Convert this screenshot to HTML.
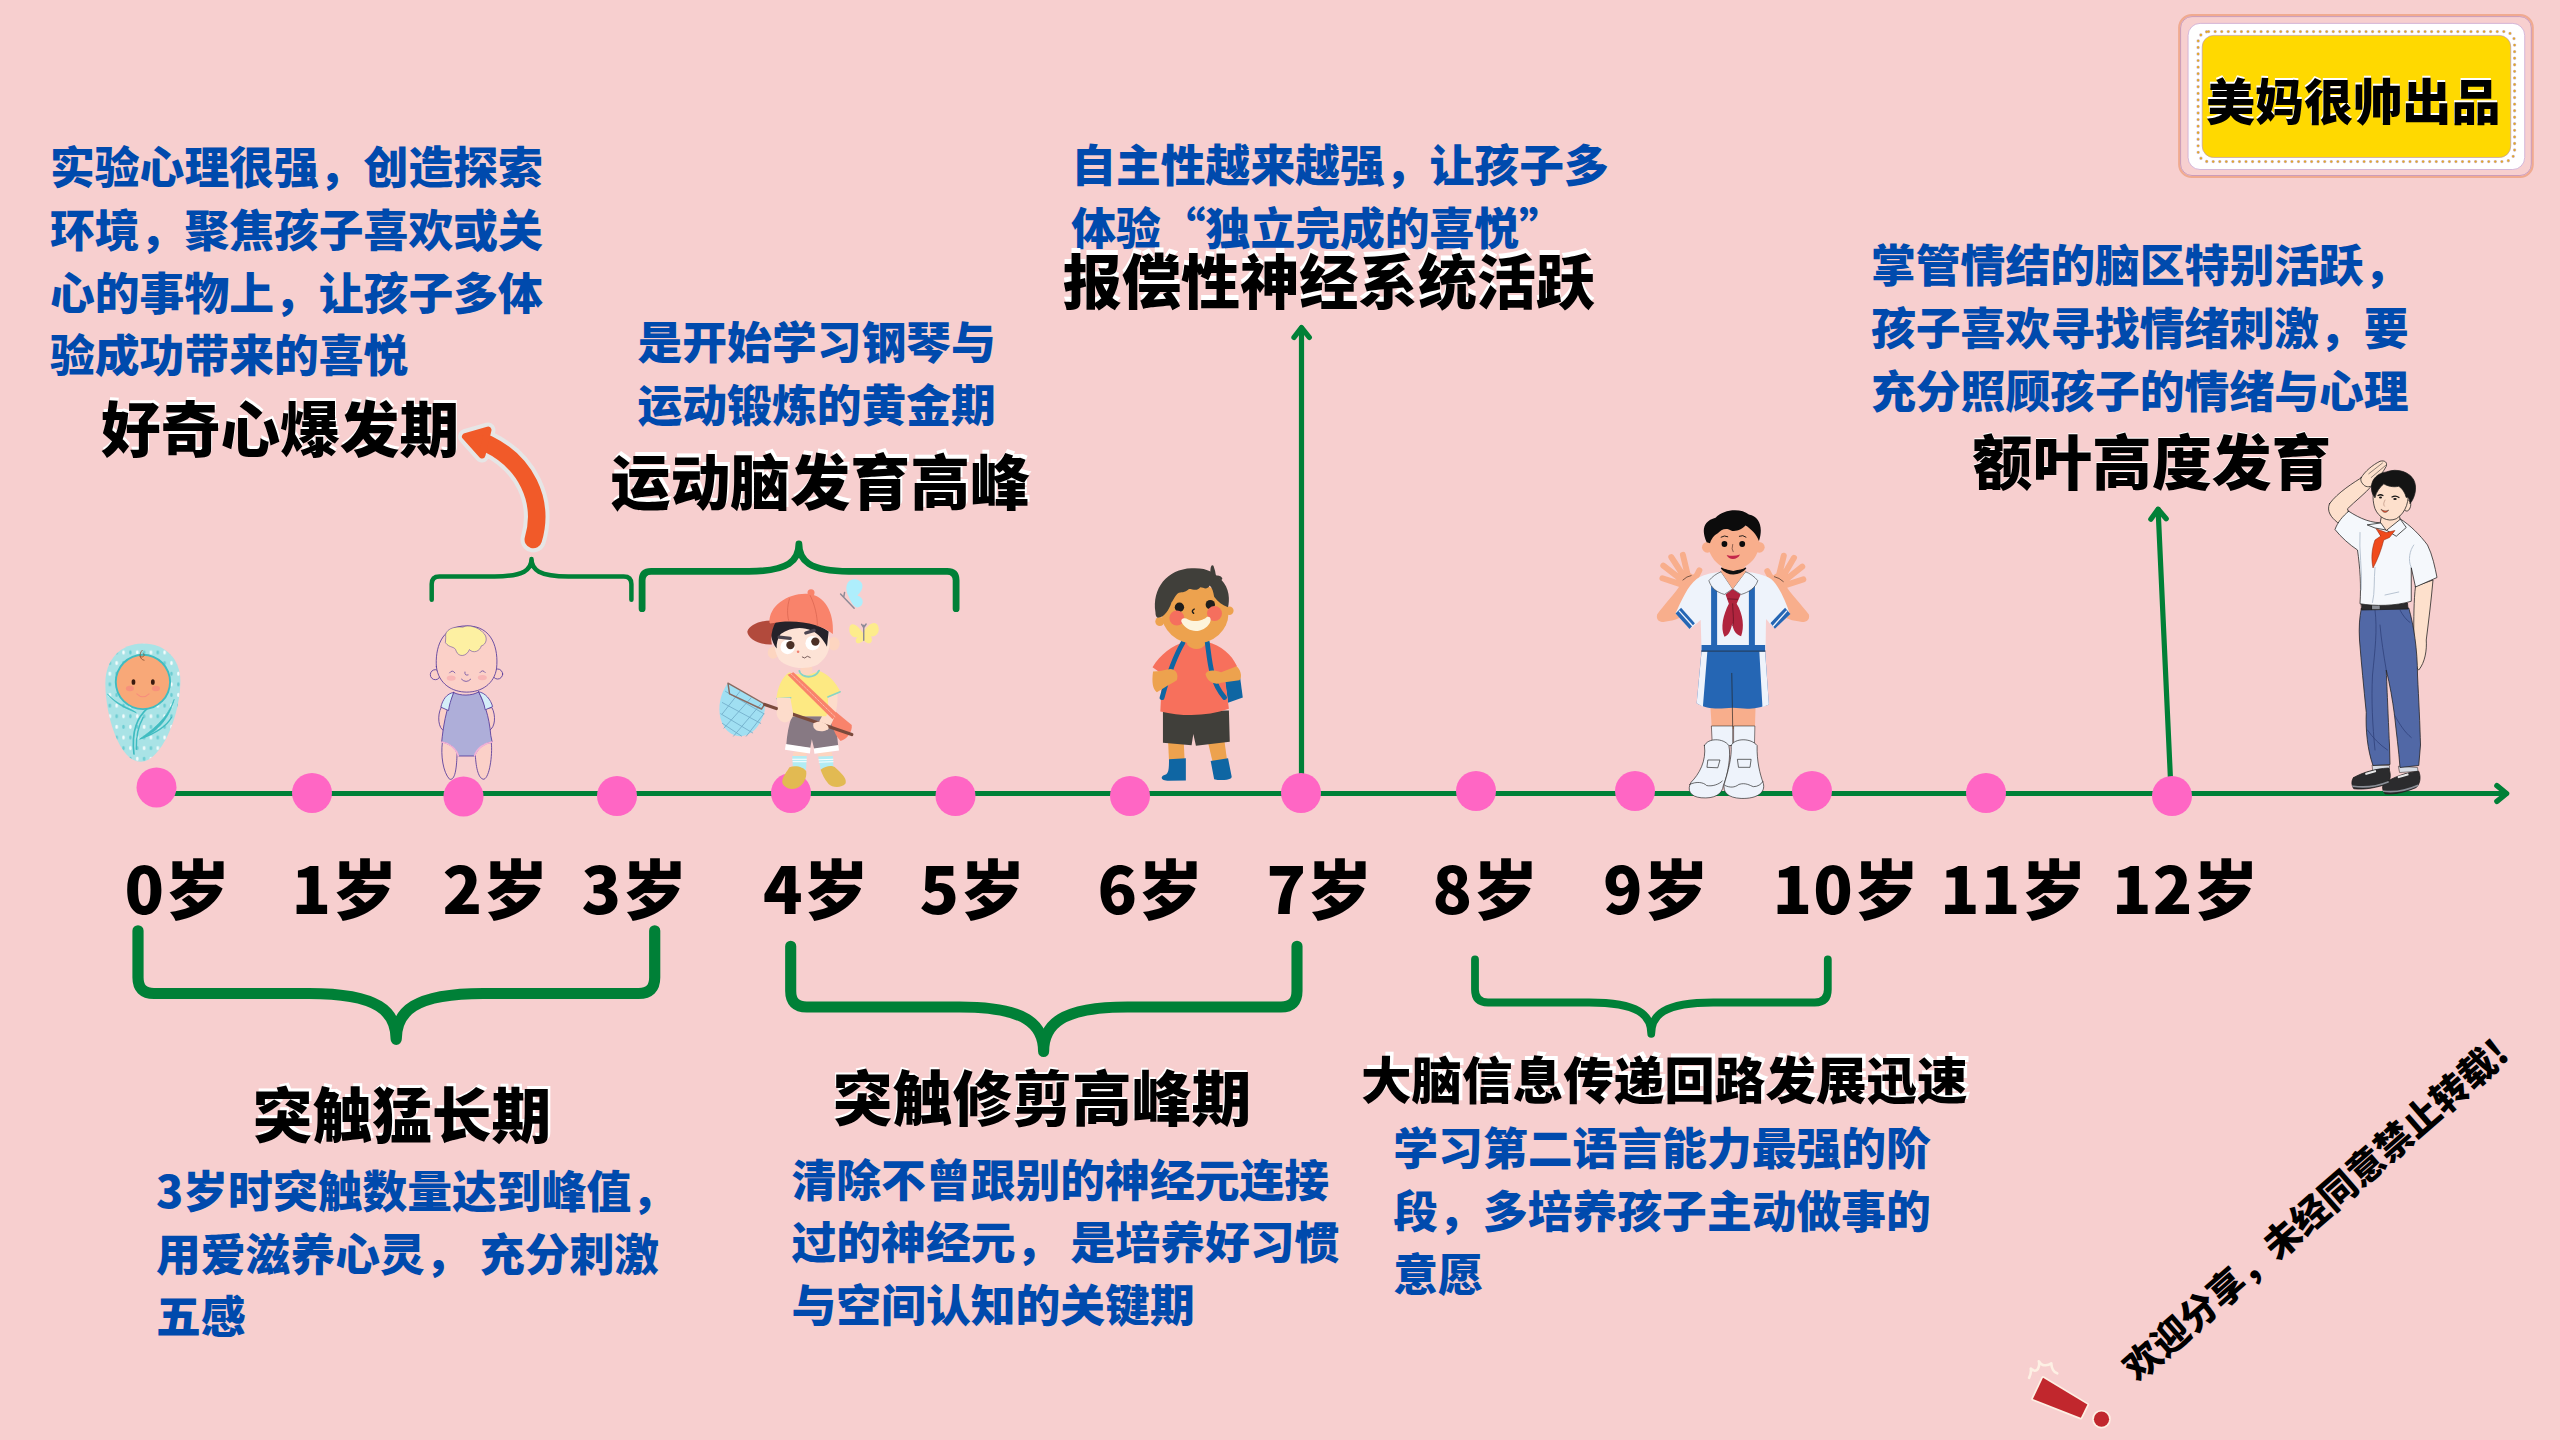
<!DOCTYPE html>
<html lang="zh-CN">
<head>
<meta charset="utf-8">
<title>大脑发育时间轴</title>
<style>
html,body{margin:0;padding:0;}
body{width:2560px;height:1440px;overflow:hidden;background:#f7cfcf;font-family:"Liberation Sans","Noto Sans CJK SC",sans-serif;}
#stage{position:relative;width:2560px;height:1440px;overflow:hidden;background:#f7cfcf;}
.t{position:absolute;white-space:nowrap;font-family:"Noto Sans CJK SC","Liberation Sans",sans-serif;font-weight:900;margin:0;}
.blue{color:#004aad;font-size:44.8px;line-height:62.72px;}
.ttl{color:#000;font-size:60px;line-height:70px;text-shadow:1px -3px 0 #fff;}
.age{color:#000;font-size:65px;line-height:70px;letter-spacing:1.2px;}
svg{position:absolute;left:0;top:0;}
</style>
</head>
<body>
<div id="stage">
<svg id="lines" width="2560" height="1440" viewBox="0 0 2560 1440">
  <g fill="none" stroke="#008037" stroke-linecap="round" stroke-linejoin="round">
    <path d="M157 793.5H2506" stroke-width="5.2"/>
    <path d="M2496.9 785.7L2506.6 793.5L2496.9 801.3" stroke-width="5.4"/>
    <path d="M1301.5 793V328" stroke-width="5.2"/>
    <path d="M1294 337.4L1301.5 327.6L1309.3 337.4" stroke-width="5.3"/>
    <path d="M2171.1 793L2158.1 509.4" stroke-width="5.2"/>
    <path d="M2150.8 519.2L2158.1 509.2L2166.2 518.7" stroke-width="5.3"/>
  </g>
  <g id="braces" fill="none" stroke="#008037" stroke-linecap="round" stroke-linejoin="round">
    <path d="M431.7 599.8V584.1Q431.7 576.4 439.4 576.4H494.5C524.1 576.4 531.5 569.5 531.5 559.1C531.5 569.5 538.9 576.4 568.5 576.4H623.6999999999999Q631.4 576.4 631.4 584.1V599.8" stroke-width="4.5"/>
    <path d="M642.1 608.7V580.3Q642.1 571.3 651.1 571.3H748.9C788.9 571.3 798.9 560.3 798.9 543.8C798.9 560.3 808.9 571.3 848.9 571.3H947.1Q956.1 571.3 956.1 580.3V608.7" stroke-width="6.8"/>
    <path d="M138 930.8V977.5Q138 993.5 154 993.5H309.2C378.8 993.5 396.2 1011.8 396.2 1039.3C396.2 1011.8 413.6 993.5 483.2 993.5H638.7Q654.7 993.5 654.7 977.5V930.8" stroke-width="11.2"/>
    <path d="M790.7 946.2V991Q790.7 1007 806.7 1007H959.5999999999999C1026.8 1007 1043.6 1024.8 1043.6 1051.5C1043.6 1024.8 1060.4 1007 1127.6 1007H1281Q1297 1007 1297 991V946.2" stroke-width="11.1"/>
    <path d="M1475 959.5V989.5Q1475 1002.5 1488 1002.5H1589.25C1638.8 1002.5 1651.25 1015.0 1651.25 1033.8C1651.25 1015.0 1663.7 1002.5 1713.25 1002.5H1814.8Q1827.8 1002.5 1827.8 989.5V959.5" stroke-width="7.8"/>
  </g>
  <g id="oarrow" stroke-linecap="round" stroke-linejoin="round">
    <path d="M533.3 539.6C545 500 525 462 488 444" fill="none" stroke="#e6e6e6" stroke-width="25.5"/>
    <path d="M465.5 436.5L488 430L482 455Z" fill="#e6e6e6" stroke="#e6e6e6" stroke-width="15"/>
    <path d="M533.3 539.6C545 500 525 462 488 444" fill="none" stroke="#f15a29" stroke-width="17.5"/>
    <path d="M465.5 436.5L488 430L482 455Z" fill="#f15a29" stroke="#f15a29" stroke-width="7"/>
  </g>
  <g id="badge">
    <rect x="2179.2" y="15.2" width="353.5" height="161.7" rx="12.6" fill="none" stroke="#f0aa90" stroke-width="2.2"/>
    <rect x="2180.6" y="16.6" width="350.7" height="158.9" rx="11.4" fill="none" stroke="#b98ab8" stroke-width="0.7"/>
    <rect x="2188.1" y="23.4" width="336.6" height="146.1" rx="12" fill="#ffffff" stroke="#c4a2d2" stroke-width="0.7"/>
    <rect x="2198.1" y="31.6" width="316.5" height="130" rx="10.5" fill="none" stroke="#a77bb0" stroke-opacity="0.55" stroke-width="3.4" stroke-linecap="round" stroke-dasharray="0 6.56"/>
    <rect x="2198.1" y="31.6" width="316.5" height="130" rx="10.5" fill="none" stroke="#e3aa22" stroke-width="2.3" stroke-linecap="round" stroke-dasharray="0 6.56"/>
    <rect x="2202.2" y="35.4" width="308.6" height="122.1" rx="11.5" fill="#ffd900" stroke="#b58fc0" stroke-width="0.6"/>
  </g>
  <g id="excl" stroke-linejoin="round" stroke-linecap="round">
    <path d="M2043 1377.8L2087.4 1404.6L2080.8 1417.8L2032.9 1399Z" fill="#c1272d" stroke="#fdf0e4" stroke-width="3.4" paint-order="stroke"/>
    <circle cx="2101.5" cy="1419.2" r="7.6" fill="#c1272d" stroke="#fdf0e4" stroke-width="3.4" paint-order="stroke"/>
    <path d="M2029.1 1377.8Q2031.5 1373 2030.8 1368.5Q2035 1372.5 2037.8 1369.2Q2040 1365 2038.8 1361.2Q2041.5 1365.8 2044.7 1365.2Q2048.5 1365.5 2051.3 1363.3Q2051.5 1367.5 2053 1369.9Q2054.5 1372.5 2057.2 1373.3" fill="none" stroke="#fdf0e4" stroke-width="2.6"/>
  </g>
<!--CHARS_BELOW_DOTS-->
  <!-- character 1: swaddled newborn -->
  <defs>
    <clipPath id="eggclip"><path d="M448 115C640 115 765 250 765 430C765 730 600 1115 430 1115C250 1115 130 730 130 450C130 250 260 115 448 115Z"/></clipPath>
    <pattern id="swdots" width="116" height="180" patternUnits="userSpaceOnUse" x="140" y="150">
      <ellipse cx="28" cy="40" rx="11" ry="17" fill="#ffffff"/>
      <ellipse cx="86" cy="40" rx="11" ry="17" fill="#62c9cf"/>
      <ellipse cx="28" cy="130" rx="11" ry="17" fill="#62c9cf"/>
      <ellipse cx="86" cy="130" rx="11" ry="17" fill="#ffffff"/>
    </pattern>
  </defs>
  <g id="c1" transform="translate(90 630) scale(0.11811)">
    <path d="M448 115C640 115 765 250 765 430C765 730 600 1115 430 1115C250 1115 130 730 130 450C130 250 260 115 448 115Z" fill="#a9e3e6"/>
    <rect x="120" y="100" width="660" height="1030" fill="url(#swdots)" clip-path="url(#eggclip)" opacity="0.9"/>
    <g fill="none" stroke="#3fbcc1" stroke-linecap="round">
      <path d="M150 545C230 640 320 670 392 700C320 650 240 640 150 545Z" fill="#3fbcc1" stroke-width="6"/>
      <path d="M712 590C650 760 520 850 420 925C540 880 660 780 712 590Z" fill="#3fbcc1" stroke-width="6"/>
      <path d="M690 740C640 830 540 880 430 920" stroke-width="10"/>
      <path d="M490 660C400 740 350 850 372 1050" stroke-width="14"/>
      <path d="M450 740C400 830 390 930 392 1010" stroke-width="12"/>
    </g>
    <circle cx="448" cy="440" r="238" fill="#3fbcc1"/>
    <circle cx="448" cy="440" r="222" fill="#f8a878"/>
    <ellipse cx="368" cy="440" rx="16" ry="24" fill="#3a1b10"/>
    <ellipse cx="532" cy="440" rx="16" ry="24" fill="#3a1b10"/>
    <ellipse cx="338" cy="496" rx="34" ry="23" fill="#f78d7d" opacity="0.85"/>
    <ellipse cx="558" cy="496" rx="34" ry="23" fill="#f78d7d" opacity="0.85"/>
    <path d="M396 540Q448 590 500 540" fill="none" stroke="#f78d7d" stroke-width="9" stroke-linecap="round"/>
    <path d="M442 172C412 200 420 252 458 256M424 226C446 238 474 216 450 198" fill="none" stroke="#8a5030" stroke-width="7" stroke-linecap="round"/>
  </g>
  <!-- character 2: toddler -->
  <g id="c2" transform="translate(410 610) scale(0.13201)" stroke="#553a9c" stroke-width="6.5" stroke-linejoin="round" stroke-linecap="round">
    <path d="M245 1005C232 1100 250 1230 300 1282C342 1292 352 1200 356 1105L356 1005Z" fill="#fbd0c8"/>
    <path d="M495 1100C500 1200 520 1282 560 1282C602 1270 626 1100 616 1005L495 1005Z" fill="#fbd0c8"/>
    <path d="M236 738C204 800 214 900 260 916C296 900 286 800 292 750Z" fill="#fbd0c8"/>
    <path d="M622 742C652 800 646 890 600 912C566 890 572 800 560 750Z" fill="#fbd0c8"/>
    <path d="M330 625C380 652 470 652 520 620C560 700 600 800 612 950L622 1000C560 1010 510 1050 490 1106L366 1106C350 1050 300 1010 240 1000C250 900 270 750 330 625Z" fill="#aeaed9"/>
    <path d="M330 625C280 630 246 680 234 736L292 762C300 700 320 660 330 625Z" fill="#d5eef8"/>
    <path d="M520 620C570 625 612 680 626 732L570 756C560 700 540 660 520 620Z" fill="#d5eef8"/>
    <path d="M242 1000C300 1012 350 1050 366 1104" fill="none" stroke="#f3b2d6" stroke-width="13"/>
    <path d="M620 1000C560 1012 506 1050 490 1104" fill="none" stroke="#f3b2d6" stroke-width="13"/>
    <circle cx="192" cy="490" r="38" fill="#fbd0c8"/>
    <circle cx="664" cy="485" r="38" fill="#fbd0c8"/>
    <path d="M200 430C190 300 230 120 430 120C630 120 670 300 656 440C640 560 540 622 430 622C320 622 215 560 200 430Z" fill="#fbd0c8"/>
    <path d="M270 205C258 150 330 120 400 130C440 108 520 130 552 170C592 200 582 262 540 272C530 312 480 332 450 300C430 352 370 362 350 312C340 270 300 292 270 250Z" fill="#fdf0a2" stroke-width="4"/>
    <g fill="none" stroke-width="5.5">
      <path d="M300 476Q320 448 340 476"/>
      <path d="M530 474Q550 446 570 474"/>
      <path d="M416 470Q412 500 440 492"/>
      <path d="M390 524Q425 560 460 524"/>
    </g>
    <ellipse cx="312" cy="516" rx="34" ry="20" fill="#f8b6b6" stroke="none"/>
    <ellipse cx="548" cy="512" rx="34" ry="20" fill="#f8b6b6" stroke="none"/>
  </g>
<!--/CHARS_BELOW_DOTS-->
  <g fill="#ff66c4">
    <circle cx="156.5" cy="787.4" r="20"/><circle cx="312" cy="793" r="20"/><circle cx="463.5" cy="796.5" r="20"/><circle cx="617" cy="796" r="20"/>
    <circle cx="791" cy="793" r="20"/><circle cx="955.5" cy="796" r="20"/><circle cx="1130" cy="796" r="20"/><circle cx="1301" cy="793" r="20"/>
    <circle cx="1476" cy="791" r="20"/><circle cx="1635" cy="791" r="20"/><circle cx="1812" cy="791" r="20"/><circle cx="1986" cy="793" r="20"/><circle cx="2172" cy="796" r="20"/>
  </g>
<!--CHARS_ABOVE_DOTS-->
  <!-- character 3: boy with cap and butterfly net (zoom 6.26, origin 700,570) -->
  <g id="c3" transform="translate(700 570) scale(0.159744)" stroke-linejoin="round" stroke-linecap="round">
    <!-- butterflies -->
    <path d="M930 165C900 110 920 50 975 58C1030 70 1030 120 985 160C1030 170 1030 230 985 235C960 232 945 200 930 165Z" fill="#aeeefc"/>
    <path d="M880 150L965 240M905 140L900 170" stroke="#8d8a96" stroke-width="9" fill="none"/>
    <path d="M1020 395C980 330 930 320 935 380C940 420 975 425 985 420C960 450 985 480 1025 440C1060 480 1090 450 1070 415C1100 420 1130 390 1115 350C1095 310 1050 340 1020 395Z" fill="#fdec8c"/>
    <path d="M1025 345L1025 440M1012 340L1025 360L1040 338" stroke="#8d8a96" stroke-width="9" fill="none"/>
    <!-- net -->
    <path d="M175 708C120 780 100 900 150 980C200 1060 300 1060 360 980C400 920 410 880 405 840Z" fill="#a0dff2"/>
    <g stroke="#6fa9c6" stroke-width="5" fill="none">
      <path d="M160 760L400 900M140 830L380 960M130 900L330 1020M140 960L260 1040"/>
      <path d="M250 760L140 900M320 800L150 990M380 840L210 1040M400 900L290 1040"/>
    </g>
    <path d="M175 708L405 840L385 870L185 775Z" fill="none" stroke="#8a6a60" stroke-width="9"/>
    <!-- legs / socks / shoes -->
    <path d="M585 1140L668 1140L665 1175L580 1175ZM735 1140L825 1140L830 1175L742 1175Z" fill="#fdd5c0"/>
    <path d="M578 1165L668 1165L664 1250L582 1250Z" fill="#b2ecf4"/>
    <path d="M740 1168L832 1165L835 1240L755 1248Z" fill="#b2ecf4"/>
    <path d="M580 1185L666 1185M582 1200L665 1200M744 1188L832 1185M746 1203L833 1200" stroke="#ffffff" stroke-width="6" fill="none"/>
    <path d="M560 1235C600 1220 650 1235 665 1260C670 1300 650 1350 600 1368C550 1380 510 1350 515 1320C520 1290 545 1260 560 1235Z" fill="#e2ba52"/>
    <path d="M755 1250C790 1225 830 1220 850 1240C880 1270 920 1300 912 1335C890 1365 830 1365 805 1340C780 1310 765 1280 755 1250Z" fill="#e2ba52"/>
    <!-- shorts -->
    <path d="M575 915L835 915C850 980 860 1040 865 1100L715 1120L700 1060L690 1115L540 1095C545 1030 555 970 575 915Z" fill="#877983"/>
    <path d="M537 1090L692 1112L688 1148L532 1125Z" fill="#ffffff"/>
    <path d="M712 1118L866 1095L870 1130L716 1150Z" fill="#ffffff"/>
    <!-- bag -->
    <path d="M840 880L950 970C955 1010 920 1060 880 1070C850 1040 830 990 815 940Z" fill="#f9836b"/>
    <!-- arm right (viewer's right) -->
    <path d="M800 780L860 770C865 850 850 930 800 1000L720 990C760 930 800 860 800 780Z" fill="#fddccb"/>
    <!-- shirt -->
    <path d="M560 640C600 660 700 660 745 630C800 650 850 700 880 765L800 800C805 850 800 890 790 915L560 915C570 880 570 840 565 800L478 810C485 740 510 670 560 640Z" fill="#fde982"/>
    <path d="M622 632C640 680 720 680 745 630" fill="none" stroke="#86d4c8" stroke-width="12"/>
    <path d="M480 805L568 800M800 795L878 762" stroke="#86d4c8" stroke-width="9" fill="none"/>
    <path d="M630 585L700 585L705 640C690 665 650 665 630 640Z" fill="#fdd5c0"/>
    <!-- strap -->
    <path d="M548 655L585 640L860 900L830 935Z" fill="#f9836b"/>
    <path d="M570 650L845 918" stroke="#fde0d8" stroke-width="4" stroke-dasharray="6 8" fill="none"/>
    <!-- handle and hands -->
    <path d="M405 842L950 1030" stroke="#7a4a3c" stroke-width="21" fill="none"/>
    <path d="M480 880C500 850 560 840 580 880C590 920 570 950 530 955C500 950 475 920 480 880Z" fill="#fddccb"/>
    <path d="M710 960C740 940 790 950 805 985C800 1010 760 1015 730 1005C712 995 705 980 710 960Z" fill="#fddccb"/>
    <path d="M480 800L565 800L580 880L490 890Z" fill="#fddccb"/>
    <!-- head -->
    <ellipse cx="458" cy="518" rx="34" ry="38" fill="#fdd5c0"/>
    <ellipse cx="838" cy="462" rx="36" ry="42" fill="#fdd5c0"/>
    <path d="M470 420C520 360 760 330 800 400C830 470 800 560 720 600C640 630 540 610 495 560C470 520 460 470 470 420Z" fill="#fde3d6"/>
    <path d="M440 325C520 296 700 306 805 385L795 480C775 440 745 400 700 380C640 350 560 360 505 400C485 430 478 460 480 492C448 450 432 380 440 325Z" fill="#25222a"/>
    <path d="M480 318C400 306 308 338 296 386C300 432 380 472 450 466C440 420 450 360 480 318Z" fill="#b24a3c"/>
    <path d="M435 330C430 220 560 140 680 150C780 160 840 260 832 400C760 340 600 300 440 335Z" fill="#f9836b"/>
    <circle cx="695" cy="143" r="22" fill="#f9836b"/>
    <path d="M560 180C545 230 545 280 555 315M690 160C720 220 735 290 735 350" stroke="#d4604c" stroke-width="4" fill="none"/>
    <circle cx="548" cy="482" r="45" fill="#ffffff"/>
    <circle cx="705" cy="458" r="45" fill="#ffffff"/>
    <circle cx="566" cy="470" r="26" fill="#4a3026"/>
    <circle cx="722" cy="448" r="26" fill="#4a3026"/>
    <path d="M495 420L565 428" stroke="#4a4450" stroke-width="20" fill="none"/>
    <path d="M662 395L715 378" stroke="#4a4450" stroke-width="20" fill="none"/>
    <circle cx="614" cy="512" r="8" fill="#f08070"/>
    <path d="M640 545Q655 560 672 540L690 548" stroke="#5a4040" stroke-width="5" fill="none"/>
  </g>
  <!-- character 4: boy with backpack (zoom 5.761, origin 1110,550) -->
  <g id="c4" transform="translate(1110 550) scale(0.173581)" stroke-linejoin="round" stroke-linecap="round">
    <path d="M655 705L745 700L765 850L680 880Z" fill="#0f66a3"/>
    <path d="M335 1110L425 1110L430 1215L340 1215Z" fill="#eda24e"/>
    <path d="M565 1110L660 1105L675 1215L590 1215Z" fill="#eda24e"/>
    <path d="M340 1205L437 1200L437 1328L340 1330C300 1330 285 1312 310 1298C335 1290 340 1280 340 1205Z" fill="#0f66a3"/>
    <path d="M580 1215L680 1200L700 1300C705 1318 690 1325 620 1325L600 1320Z" fill="#0f66a3"/>
    <path d="M305 930L685 925L690 1105L495 1128L480 1060L470 1125L305 1110Z" fill="#403f3a"/>
    <path d="M245 675C290 600 360 550 430 530L560 530C640 550 700 600 732 670L660 720L685 915C560 960 420 960 290 930L300 715Z" fill="#f7705c"/>
    <path d="M440 500L555 500L552 540C530 580 470 580 445 545Z" fill="#eda24e"/>
    <path d="M420 535C370 620 330 740 300 850" stroke="#0f66a3" stroke-width="28" fill="none"/>
    <path d="M560 530C575 640 580 760 660 850" stroke="#0f66a3" stroke-width="28" fill="none"/>
    <path d="M248 700C240 760 245 800 270 820C300 800 350 770 385 750C395 720 385 690 350 685C310 690 280 700 248 700Z" fill="#eda24e"/>
    <path d="M550 715C560 690 600 690 640 705L730 670C760 700 760 740 745 750L640 765C600 780 560 760 550 715Z" fill="#eda24e"/>
    <circle cx="287" cy="412" r="26" fill="#eda24e"/>
    <circle cx="688" cy="350" r="24" fill="#eda24e"/>
    <ellipse cx="490" cy="368" rx="192" ry="172" fill="#eda24e"/>
    <path d="M262 360C240 220 330 110 470 105C560 100 600 130 640 170C690 220 690 290 680 330C650 320 620 300 600 270C595 240 590 220 575 205C555 235 540 215 520 215C500 240 480 225 455 225C430 250 410 240 390 250C370 270 365 290 355 300C340 350 310 390 275 390C265 385 262 375 262 360Z" fill="#403f3a"/>
    <path d="M590 175C585 140 580 110 590 95C600 120 602 140 605 160C620 150 635 155 640 165" stroke="#403f3a" stroke-width="14" fill="none"/>
    <circle cx="400" cy="330" r="27" fill="#1f1e1c"/>
    <circle cx="578" cy="315" r="27" fill="#1f1e1c"/>
    <circle cx="385" cy="392" r="43" fill="#f56f5e"/>
    <circle cx="602" cy="366" r="43" fill="#f56f5e"/>
    <path d="M412 415C405 395 430 385 450 400C490 420 540 405 560 385C580 380 585 400 575 420C540 480 450 485 412 415Z" fill="#fdf4dc"/>
    <path d="M485 340Q465 350 482 365" stroke="#1f1e1c" stroke-width="8" fill="none"/>
  </g>
  <!-- character 5: school boy waving both hands (zoom 4.5, origin 1630,490) -->
  <g id="c5" transform="translate(1630 490) scale(0.222222)" stroke-linejoin="round" stroke-linecap="round">
    <!-- arms -->
    <path d="M235 415C200 470 150 520 122 560C115 590 140 600 175 590C215 585 260 560 300 520Z" fill="#f8ae8c"/>
    <path d="M690 415C725 470 775 520 805 560C812 590 785 600 750 590C710 585 665 560 625 520Z" fill="#f8ae8c"/>
    <!-- hands -->
    <g fill="#f8ae8c" stroke="#f8ae8c" stroke-width="27">
      <ellipse cx="258" cy="412" rx="42" ry="40" stroke="none"/>
      <ellipse cx="672" cy="414" rx="42" ry="40" stroke="none"/>
      <path d="M262 420L300 385L312 362"/>
      <path d="M240 410L150 340M248 398L186 302M262 392L238 292M230 425L146 397"/>
      <path d="M668 422L630 388L618 365"/>
      <path d="M690 412L775 345M682 400L738 305M668 394L692 296M700 428L780 402"/>
    </g>
    <path d="M238 405Q255 388 275 385M650 390Q672 395 690 412" fill="none" stroke="#3a2a24" stroke-width="3"/>
    <!-- legs -->
    <path d="M362 975L565 975L562 1075L368 1075Z" fill="#f8ae8c"/>
    <!-- socks -->
    <path d="M368 1062L462 1062L462 1150L372 1150ZM468 1062L562 1062L560 1150L468 1150Z" fill="#eef3fb" stroke="#222" stroke-width="2.5"/>
    <!-- shoes -->
    <path d="M335 1150C350 1115 420 1115 445 1150C455 1200 440 1280 420 1330C415 1370 380 1390 320 1385C270 1380 255 1350 275 1315C310 1280 345 1220 335 1150Z" fill="#eef3fb" stroke="#222" stroke-width="3"/>
    <path d="M455 1150C470 1115 545 1115 572 1150C570 1220 585 1280 600 1320C610 1360 575 1390 500 1388C440 1385 415 1360 425 1320C440 1270 460 1200 455 1150Z" fill="#eef3fb" stroke="#222" stroke-width="3"/>
    <path d="M352 1215L405 1215L395 1250L348 1248ZM485 1212L545 1212L540 1248L490 1248Z" fill="#eef3fb" stroke="#222" stroke-width="3"/>
    <path d="M268 1325C300 1310 330 1315 345 1330C370 1335 400 1325 415 1310M428 1330C450 1340 470 1340 490 1325C520 1315 540 1330 555 1335C575 1335 590 1325 598 1312" fill="none" stroke="#222" stroke-width="3"/>
    <!-- shorts -->
    <path d="M322 722L608 722L625 965C560 990 520 985 462 980C400 985 350 990 300 960Z" fill="#2566b4"/>
    <path d="M322 728L348 728L328 975L300 960ZM582 728L608 728L625 965L596 978Z" fill="#eef3fb"/>
    <path d="M458 825L462 1062" stroke="#222" stroke-width="3" fill="none"/>
    <!-- shirt -->
    <path d="M300 400C340 375 380 372 410 368L520 368C560 372 600 380 635 400C670 430 700 500 720 560L650 622L612 580L610 722L322 722L318 585L270 625L205 555C230 500 260 430 300 400Z" fill="#eef3fb"/>
    <path d="M205 556L230 530L292 600L268 626Z" fill="#2566b4"/>
    <path d="M722 558L698 530L632 598L652 624Z" fill="#2566b4"/>
    <path d="M222 545L282 612M240 528L300 596M705 545L645 612M688 528L628 596" stroke="#eef3fb" stroke-width="6" fill="none"/>
    <path d="M365 432L392 432L392 698L365 698ZM535 432L562 432L562 698L535 698Z" fill="#2566b4"/>
    <path d="M322 697L608 697L608 725L322 725Z" fill="#2566b4"/>
    <path d="M322 725L608 725" stroke="#222" stroke-width="3" fill="none"/>
    <!-- scarf -->
    <path d="M430 470L462 445L498 470L480 512C510 560 515 620 500 658C470 650 462 620 460 600C455 630 445 655 425 660C405 620 420 560 445 512Z" fill="#b0243e"/>
    <path d="M440 490L485 492M462 512C462 550 470 590 462 610" stroke="#5a1020" stroke-width="3" fill="none"/>
    <!-- collar -->
    <path d="M410 368L462 445L425 470C390 460 365 440 355 408C370 390 390 375 410 368ZM520 368L462 445L500 470C535 460 565 440 575 408C560 390 540 375 520 368Z" fill="#eef3fb" stroke="#222" stroke-width="2.5"/>
    <!-- neck -->
    <path d="M415 340L515 340L520 368L462 445L410 368Z" fill="#f8ae8c"/>
    <path d="M412 352C440 385 490 385 520 352C500 365 440 368 412 352Z" fill="#111" stroke="#111" stroke-width="6"/>
    <!-- head -->
    <circle cx="348" cy="258" r="24" fill="#f8ae8c"/>
    <circle cx="582" cy="258" r="24" fill="#f8ae8c"/>
    <path d="M350 200C360 140 560 140 580 200C590 280 560 340 465 365C380 345 340 280 350 200Z" fill="#f8ae8c"/>
    <path d="M345 235C320 180 330 140 385 125C420 85 500 80 535 110C585 120 600 170 580 230C570 200 545 175 520 160C500 180 480 185 460 185C430 165 410 180 395 195C375 205 365 225 360 240Z" fill="#0c0c0c"/>
    <circle cx="425" cy="243" r="13" fill="#0c0c0c"/>
    <circle cx="505" cy="243" r="13" fill="#0c0c0c"/>
    <path d="M410 212Q425 202 440 210M492 208Q508 200 522 212" stroke="#0c0c0c" stroke-width="4" fill="none"/>
    <path d="M462 245Q455 268 464 278" stroke="#5a3a30" stroke-width="3" fill="none"/>
    <path d="M435 292C455 298 475 298 495 290C485 315 445 318 435 292Z" fill="#c4274a"/>
  </g>
  <!-- character 6: teenager saluting (zoom 4, origin 2300,450) -->
  <g id="c6" transform="translate(2300 450) scale(0.25)" stroke-linejoin="round" stroke-linecap="round" stroke="#1c1c1c" stroke-width="3">
    <!-- shoes -->
    <path d="M395 1265L470 1270L472 1285L400 1290Z" fill="#d8dce4" stroke-width="2"/>
    <path d="M290 1260L358 1262L358 1280L292 1282Z" fill="#d8dce4" stroke-width="2"/>
    <path d="M215 1310C250 1290 300 1275 355 1272C365 1300 362 1320 350 1335C310 1350 260 1360 215 1355C205 1340 205 1320 215 1310Z" fill="#2b2b2d"/>
    <path d="M335 1335C370 1310 420 1290 475 1285C485 1310 480 1335 465 1350C430 1365 380 1380 340 1375C328 1360 328 1345 335 1335Z" fill="#2b2b2d"/>
    <path d="M212 1345C260 1352 310 1345 352 1328M335 1365C380 1370 430 1360 470 1342" stroke="#8a8e96" stroke-width="7" fill="none"/>
    <path d="M265 1295L300 1285M395 1308L430 1298" stroke="#e8e8e8" stroke-width="9" fill="none"/>
    <!-- right arm (hanging) -->
    <path d="M462 545L532 520C525 600 515 680 505 760C508 800 500 850 475 880C460 870 465 840 462 820C450 800 445 770 455 740C455 680 455 600 462 545Z" fill="#fde0cc"/>
    <!-- pants -->
    <path d="M245 635L435 632C455 700 470 800 470 900C475 1000 480 1100 482 1180L475 1262L400 1270C395 1200 385 1130 378 1060C370 1000 360 940 345 880C350 1000 355 1120 358 1180L360 1258L292 1262C270 1200 262 1120 265 1050C255 950 245 850 238 760C235 710 238 670 245 635Z" fill="#5168a6"/>
    <path d="M300 640C310 720 300 800 290 900C285 1000 290 1100 300 1200M345 880C335 820 325 760 320 700M400 640C410 660 425 680 440 690M378 1060C400 1100 420 1130 445 1150M270 1120C290 1150 320 1180 350 1200" stroke="#2e3f78" stroke-width="3" fill="none"/>
    <!-- belt -->
    <path d="M246 616L430 612L432 636L248 640Z" fill="#2b2b2d"/>
    <path d="M288 616L320 615L320 638L288 638Z" fill="#8a8e96" stroke-width="2"/>
    <!-- raised arm -->
    <path d="M118 215C150 170 215 130 255 105L290 140C260 175 220 205 190 235C195 255 200 275 190 295L150 290C125 270 105 245 118 215Z" fill="#fde0cc"/>
    <path d="M245 110C260 85 290 60 320 45C340 40 350 50 345 65C335 85 315 110 295 135C285 150 265 150 255 140C245 130 240 120 245 110Z" fill="#fde0cc"/>
    <path d="M275 95L330 52M285 110L342 62" stroke="#1c1c1c" stroke-width="2" fill="none"/>
    <!-- shirt -->
    <path d="M195 245C240 275 290 295 335 290L400 275C440 300 480 340 510 380C530 420 540 470 548 510L462 548L445 470L445 605C380 625 300 625 240 615C245 540 240 470 230 400C200 380 165 350 140 318C150 290 170 265 195 245Z" fill="#f5f8fc"/>
    <path d="M240 330C235 400 250 480 245 560M300 470C295 520 300 570 290 610M445 470C430 440 440 400 455 380M340 580L395 568" stroke="#b8c4d2" stroke-width="4" fill="none"/>
    <!-- collar -->
    <path d="M335 290L400 275L425 310L385 345L345 320L300 312L270 300Z" fill="#f5f8fc"/>
    <!-- scarf -->
    <path d="M305 315L345 330L380 322L358 350L335 360C325 400 310 440 292 472C285 440 285 400 300 360L322 345Z" fill="#f04a1c" stroke="#8a2008" stroke-width="2"/>
    <!-- neck -->
    <path d="M330 250L395 240L400 278L345 322L322 290Z" fill="#fde0cc"/>
    <!-- head -->
    <path d="M425 200C440 195 448 215 440 232C435 245 425 248 418 240Z" fill="#fde0cc"/>
    <path d="M298 150C310 110 400 100 430 150C440 200 425 250 385 275C350 290 315 270 300 235C290 205 290 175 298 150Z" fill="#fde0cc"/>
    <path d="M290 175C275 130 300 95 345 88C390 70 440 90 455 120C470 150 460 190 440 215C440 195 432 185 425 190C420 170 410 155 395 145C375 150 350 145 335 135C320 150 305 165 300 190Z" fill="#141414"/>
    <path d="M312 182Q322 176 332 182M368 188Q382 180 396 190" stroke="#141414" stroke-width="5" fill="none"/>
    <ellipse cx="322" cy="190" rx="6" ry="4" fill="#141414" stroke="none"/>
    <ellipse cx="380" cy="196" rx="7" ry="4" fill="#141414" stroke="none"/>
    <path d="M325 238C335 245 345 245 355 240C345 255 332 252 325 238Z" fill="#e85a3a" stroke-width="1.5"/>
    <path d="M340 200Q330 218 338 225" stroke="#a07060" stroke-width="2" fill="none"/>
  </g>
<!--/CHARS_ABOVE_DOTS-->
</svg>

<div class="t blue" style="left:50px;top:134.3px;">实验心理很强，创造探索<br>环境，聚焦孩子喜欢或关<br>心的事物上，让孩子多体<br>验成功带来的喜悦</div>
<div class="t ttl" style="left:101px;top:390.7px;font-size:59.7px;text-shadow:1px -3px 0 #fff;">好奇心爆发期</div>

<div class="t blue" style="left:637.5px;top:308.9px;">是开始学习钢琴与<br>运动锻炼的黄金期</div>
<div class="t ttl" style="left:610.5px;top:443.7px;font-size:59.95px;text-shadow:2px -4px 0 #fff;">运动脑发育高峰</div>

<div class="t blue" style="left:1071.2px;top:132.1px;">自主性越来越强，让孩子多<br>体验“独立完成的喜悦”</div>
<div class="t ttl" style="left:1062.8px;top:243.2px;font-size:59.15px;text-shadow:0 -5px 0 #fff;">报偿性神经系统活跃</div>

<div class="t blue" style="left:1871px;top:232.1px;">掌管情结的脑区特别活跃，<br>孩子喜欢寻找情绪刺激，要<br>充分照顾孩子的情绪与心理</div>
<div class="t ttl" style="left:1972.5px;top:424px;font-size:59.8px;text-shadow:0 -1.2px 0 #fff;">额叶高度发育</div>

<div class="t age" style="left:124.5px;top:851px;">0岁</div>
<div class="t age" style="left:291.5px;top:851px;">1岁</div>
<div class="t age" style="left:442.5px;top:851px;">2岁</div>
<div class="t age" style="left:581.5px;top:851px;">3岁</div>
<div class="t age" style="left:763.0px;top:851px;">4岁</div>
<div class="t age" style="left:919.5px;top:851px;">5岁</div>
<div class="t age" style="left:1097.5px;top:851px;">6岁</div>
<div class="t age" style="left:1266.5px;top:851px;">7岁</div>
<div class="t age" style="left:1432.5px;top:851px;">8岁</div>
<div class="t age" style="left:1603.0px;top:851px;">9岁</div>
<div class="t age" style="left:1772.5px;top:851px;">10岁</div>
<div class="t age" style="left:1940.0px;top:851px;">11岁</div>
<div class="t age" style="left:2112.0px;top:851px;">12岁</div>

<div class="t ttl" style="left:252.8px;top:1077.4px;font-size:59.7px;text-shadow:2.4px -3px 0 #fff;">突触猛长期</div>
<div class="t blue" style="left:156px;top:1158px;">3岁时突触数量达到峰值，<br>用爱滋养心灵， 充分刺激<br>五感</div>

<div class="t ttl" style="left:832.8px;top:1060.3px;font-size:59.8px;text-shadow:-1px -2.4px 0 #fff;">突触修剪高峰期</div>
<div class="t blue" style="left:791.5px;top:1146.7px;">清除不曾跟别的神经元连接<br>过的神经元， 是培养好习惯<br>与空间认知的关键期</div>

<div class="t ttl" style="left:1361px;top:1041.5px;font-size:50.55px;text-shadow:3.5px -4px 0 #fff;">大脑信息传递回路发展迅速</div>
<div class="t blue" style="left:1393.3px;top:1115.3px;">学习第二语言能力最强的阶<br>段，多培养孩子主动做事的<br>意愿</div>

<div class="t" style="left:2206px;top:64.2px;font-size:49.1px;line-height:70px;color:#000;text-shadow:-0.4px -1.6px 0 #fff;">美妈很帅出品</div>

<div class="t" id="rot" style="left:2014.3px;top:1178.2px;width:600px;text-align:center;font-size:37px;line-height:60px;font-weight:900;color:#000;transform:rotate(-41.1deg);transform-origin:50% 50%;">欢迎分享，未经同意禁止转载!</div>

</div>
</body>
</html>
